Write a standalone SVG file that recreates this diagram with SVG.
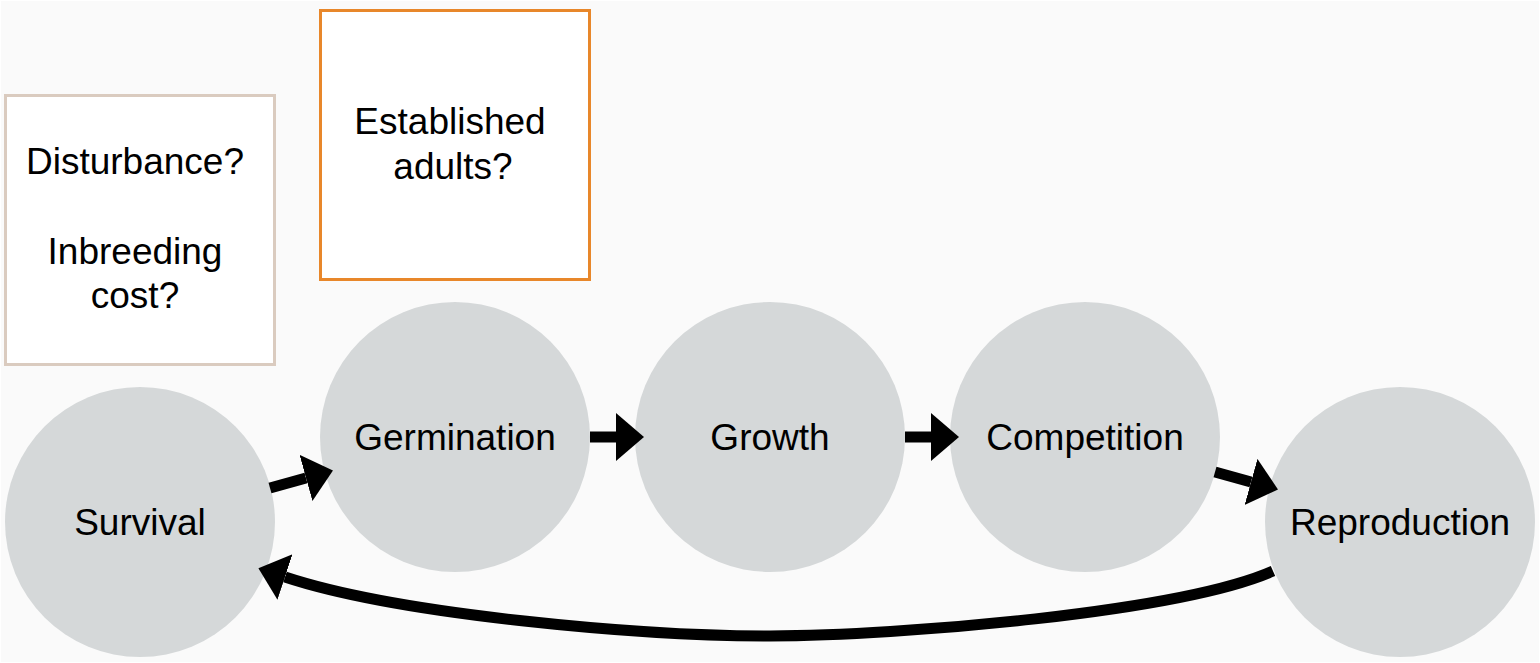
<svg xmlns="http://www.w3.org/2000/svg" width="1540" height="663" viewBox="0 0 1540 663">
<style>
.bg{fill:#fafafa}
.stage{fill:#d5d8d9}
.lbl{font-family:"Liberation Sans",Arial,sans-serif;font-size:37px;fill:#000;text-anchor:middle}
.box{fill:#fff;stroke-width:3}
.edge{fill:none;stroke:#000;stroke-width:11}
</style>
<defs>
<marker id="ah" markerUnits="userSpaceOnUse" markerWidth="30" markerHeight="50" refX="0" refY="24" orient="auto" viewBox="0 0 30 50">
<path d="M0,0 L28,24 L0,48 z" fill="#000"/>
</marker>
</defs>
<rect x="0" y="0" width="1540" height="663" fill="#fff"/>
<rect class="bg" x="1" y="1" width="1538" height="661"/>
<g id="box-disturbance">
<rect class="box" x="5.5" y="95.5" width="269" height="269" stroke="#dacbbf"/>
<text class="lbl" x="135" y="174">Disturbance?</text>
<text class="lbl" x="135" y="264">Inbreeding</text>
<text class="lbl" x="135" y="308">cost?</text>
</g>
<g id="box-adults">
<rect class="box" x="320.5" y="10.5" width="269" height="269" stroke="#e8872a"/>
<text class="lbl" x="450" y="134">Established</text>
<text class="lbl" x="453" y="179">adults?</text>
</g>
<g id="node-survival">
<circle class="stage" cx="140" cy="522" r="135"/>
<text class="lbl" x="140" y="535">Survival</text>
</g>
<g id="node-germination">
<circle class="stage" cx="455" cy="437" r="135"/>
<text class="lbl" x="455" y="450">Germination</text>
</g>
<g id="node-growth">
<circle class="stage" cx="770" cy="437" r="135"/>
<text class="lbl" x="770" y="450">Growth</text>
</g>
<g id="node-competition">
<circle class="stage" cx="1085" cy="437" r="135"/>
<text class="lbl" x="1085" y="450">Competition</text>
</g>
<g id="node-reproduction">
<circle class="stage" cx="1400" cy="522" r="135"/>
<text class="lbl" x="1400" y="535">Reproduction</text>
</g>
<g id="connectors">
<path class="edge" d="M270,488 L306,478" marker-end="url(#ah)"/>
<path class="edge" d="M590,437 L616,437" marker-end="url(#ah)"/>
<path class="edge" d="M905,437 L931,437" marker-end="url(#ah)"/>
<path class="edge" d="M1215,472 L1251,482" marker-end="url(#ah)"/>
<path class="edge" d="M1273,571 C1180,612 900,636 770,636 C640,636 400,615 285,577" marker-end="url(#ah)"/>
</g>
</svg>
